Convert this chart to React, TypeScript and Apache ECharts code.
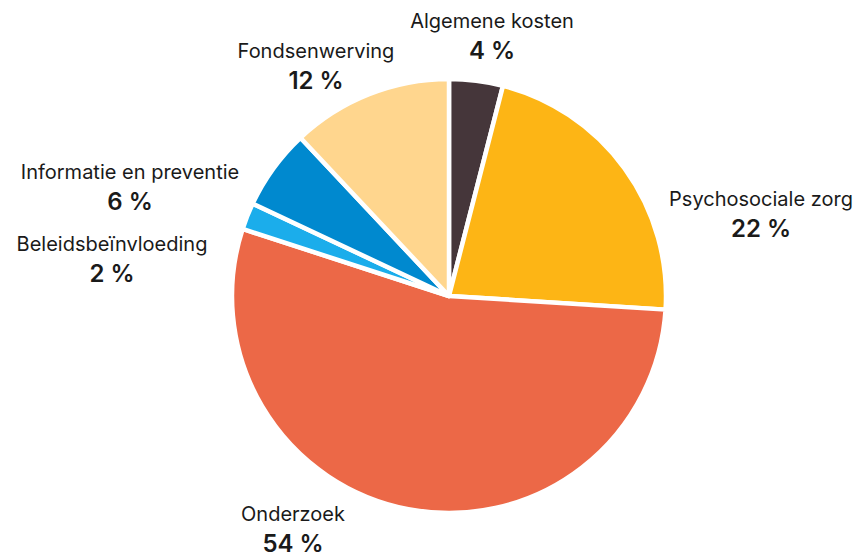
import React, { useEffect, useRef } from "react";
import * as echarts from "echarts";

const categories = [
  "Algemene kosten",
  "Psychosociale zorg",
  "Onderzoek",
  "Beleidsbeïnvloeding",
  "Informatie en preventie",
  "Fondsenwerving",
];
const values = [4, 22, 54, 2, 6, 12];
const colors = ["#45363A", "#FDB515", "#EC6847", "#1BADEB", "#0089CF", "#FFD68E"];
// label block centres (layout only)
const labelPositions: [number, number][] = [
  [492, 36],
  [761, 214],
  [293, 529],
  [112, 259],
  [130, 187],
  [316, 66],
];

export default function App() {
  const ref = useRef<HTMLDivElement>(null);
  useEffect(() => {
    document.body.style.margin = "0";
    const chart = echarts.init(ref.current!, null, { renderer: "svg" });
    chart.setOption({
      animation: false,
      backgroundColor: "#ffffff",
      series: [
        {
          type: "pie",
          center: [449, 296],
          radius: 217,
          startAngle: 90,
          clockwise: true,
          data: categories.map((name, i) => ({
            name,
            value: values[i],
            itemStyle: { color: colors[i] },
          })),
          itemStyle: { borderColor: "#ffffff", borderWidth: 4.5 },
          labelLine: { show: false },
          label: {
            show: true,
            position: "outside",
            overflow: "none",
            edgeDistance: 0,
            formatter: (p: any) => `{n|${p.name}}\n{v|${p.value} %}`,
            rich: {
              n: {
                fontFamily: "Inter",
                fontSize: 20,
                color: "#1a1a1a",
                align: "center",
                lineHeight: 28,
              },
              v: {
                fontFamily: "Inter",
                fontSize: 24,
                fontWeight: 600,
                color: "#1a1a1a",
                align: "center",
                lineHeight: 30,
              },
            },
          },
          labelLayout: (params: any) => {
            const pos = labelPositions[params.dataIndex];
            return {
              x: pos[0],
              y: pos[1],
              align: "center",
              verticalAlign: "middle",
            };
          },
        },
      ],
    });
    return () => chart.dispose();
  }, []);
  return <div ref={ref} style={{ width: 857, height: 556 }} />;
}
